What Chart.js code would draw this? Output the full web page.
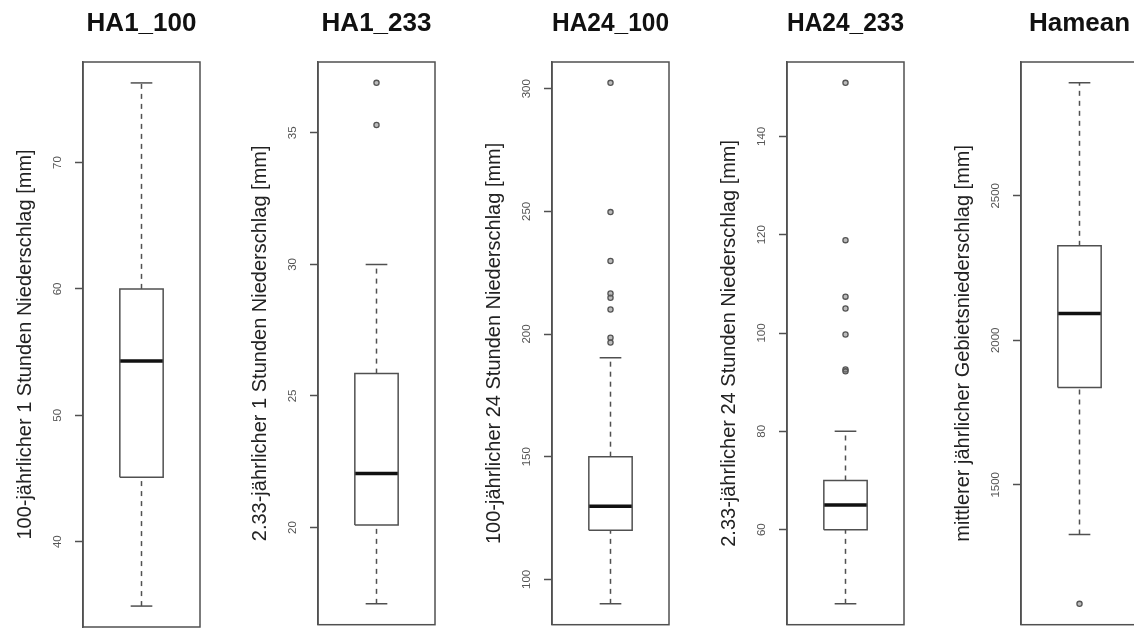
<!DOCTYPE html>
<html>
<head>
<meta charset="utf-8">
<script src="https://cdn.jsdelivr.net/npm/chart.js@4.4.1/dist/chart.umd.min.js"></script>
<style>
  html, body { margin: 0; padding: 0; background: #fff; }
  #wrap { position: relative; width: 1134px; height: 630px; overflow: hidden; }
  .panel { position: absolute; top: 0; width: 234px; height: 630px; }
</style>
</head>
<body>
<div id="wrap"></div>
<script>
// ===== DATA =====
const panelNames = ["HA1_100", "HA1_233", "HA24_100", "HA24_233", "Hamean"];
const axisTitles = [
  "100-jährlicher 1 Stunden Niederschlag [mm]",
  "2.33-jährlicher 1 Stunden Niederschlag [mm]",
  "100-jährlicher 24 Stunden Niederschlag [mm]",
  "2.33-jährlicher 24 Stunden Niederschlag [mm]",
  "mittlerer jährlicher Gebietsniederschlag [mm]"
];
// box statistics per panel
const whiskerLow  = [34.9, 17.1, 90, 44.9, 1328];
const quartile1   = [45.1, 20.1, 120, 60, 1837];
const medians     = [54.3, 22.05, 129.8, 65, 2093];
const quartile3   = [60.0, 25.85, 150, 70, 2327];
const whiskerHigh = [76.3, 30.0, 190.3, 80, 2891];
const outliers = [
  [],
  [35.3, 36.9],
  [302.4, 249.7, 229.8, 216.5, 214.8, 210, 198.5, 196.5],
  [150.9, 118.9, 107.4, 105, 99.7, 92.6, 92.2],
  [1088]
];
const tickValues = [
  [40, 50, 60, 70],
  [20, 25, 30, 35],
  [100, 150, 200, 250, 300],
  [60, 80, 100, 120, 140],
  [1500, 2000, 2500]
];

// ===== STYLE =====
const FONT = '"Liberation Sans", Arial, Helvetica, sans-serif';
const LINE = '#505050';
const PANEL_STEP = 234.5;
const BOX_HALF = 0.2;    // box half width (x units)
const CAP_HALF = 0.1;    // whisker cap half width

// frame around the plot region + rotated tick labels (R style)
const frameAndLabels = {
  id: 'frameAndLabels',
  afterDraw(chart) {
    const { ctx, chartArea: a } = chart;
    const y = chart.scales.y;
    ctx.save();
    ctx.strokeStyle = LINE;
    ctx.lineWidth = 1.5;
    ctx.strokeRect(a.left, a.top, a.right - a.left, a.bottom - a.top);
    ctx.font = '11.5px ' + FONT;
    ctx.fillStyle = '#555';
    ctx.textAlign = 'center';
    ctx.textBaseline = 'middle';
    y.ticks.forEach(t => {
      ctx.save();
      ctx.translate(y.right - 25, y.getPixelForValue(t.value));
      ctx.rotate(-Math.PI / 2);
      ctx.fillText(String(t.value), 0, 0);
      ctx.restore();
    });
    ctx.restore();
  }
};

function segment(x0, y0, x1, y1, extra) {
  return Object.assign({
    data: [{ x: x0, y: y0 }, { x: x1, y: y1 }],
    showLine: true,
    pointRadius: 0,
    borderColor: LINE,
    borderWidth: 1.5
  }, extra || {});
}

function buildPanel(i) {
  const wrap = document.getElementById('wrap');
  const canvas = document.createElement('canvas');
  canvas.className = 'panel';
  canvas.width = 234;
  canvas.height = 630;
  canvas.style.left = Math.round(i * PANEL_STEP) + 'px';
  wrap.appendChild(canvas);

  const lo = whiskerLow[i], q1 = quartile1[i], med = medians[i], q3 = quartile3[i], hi = whiskerHigh[i];
  const all = [lo, hi].concat(outliers[i]);
  const dMin = Math.min(...all), dMax = Math.max(...all);
  const ext = (dMax - dMin) * 0.04;

  const c = 1;
  const datasets = [
    // dashed whiskers
    segment(c, q3, c, hi, { borderDash: [5, 5] }),
    segment(c, lo, c, q1, { borderDash: [5, 5] }),
    // caps
    segment(c - CAP_HALF, hi, c + CAP_HALF, hi),
    segment(c - CAP_HALF, lo, c + CAP_HALF, lo),
    // box
    {
      data: [
        { x: c - BOX_HALF, y: q1 }, { x: c + BOX_HALF, y: q1 },
        { x: c + BOX_HALF, y: q3 }, { x: c - BOX_HALF, y: q3 },
        { x: c - BOX_HALF, y: q1 }
      ],
      showLine: true, pointRadius: 0, borderColor: LINE, borderWidth: 1.5
    },
    // median
    segment(c - BOX_HALF, med, c + BOX_HALF, med, { borderColor: '#111', borderWidth: 3.5 }),
    // outliers
    {
      data: outliers[i].map(v => ({ x: c, y: v })),
      showLine: false,
      pointStyle: 'circle',
      pointRadius: 2.6,
      pointBorderWidth: 1.3,
      pointBorderColor: '#555',
      pointBackgroundColor: 'rgba(120,120,120,0.5)'
    }
  ];

  new Chart(canvas, {
    type: 'scatter',
    data: { datasets },
    options: {
      responsive: false,
      animation: false,
      events: [],
      layout: { padding: { left: 0, top: 0, right: 34, bottom: 3 } },
      plugins: { legend: { display: false }, tooltip: { enabled: false } },
      scales: {
        x: {
          type: 'linear',
          position: 'top',
          min: 0.46,
          max: 1.54,
          ticks: { display: false },
          grid: { display: false, drawTicks: false },
          border: { display: false },
          title: {
            display: true,
            text: panelNames[i],
            color: '#111',
            font: { family: FONT, size: 26, weight: 'bold' },
            padding: { top: 8, bottom: 0 }
          },
          afterFit: s => { s.height = 62; }
        },
        y: {
          type: 'linear',
          min: dMin - ext,
          max: dMax + ext,
          afterBuildTicks: s => { s.ticks = tickValues[i].map(v => ({ value: v })); },
          ticks: { display: false },
          grid: { drawOnChartArea: false, drawTicks: true, tickLength: 8, tickColor: LINE, tickWidth: 1.5 },
          border: { display: true, color: LINE, width: 1.5 },
          title: {
            display: true,
            text: axisTitles[i],
            color: '#222',
            font: { family: FONT, size: 20 },
            padding: { top: 13, bottom: 0 }
          },
          afterFit: s => { s.width = 83; }
        }
      }
    },
    plugins: [frameAndLabels]
  });
}

panelNames.forEach((name, i) => buildPanel(i));
</script>
</body>
</html>
